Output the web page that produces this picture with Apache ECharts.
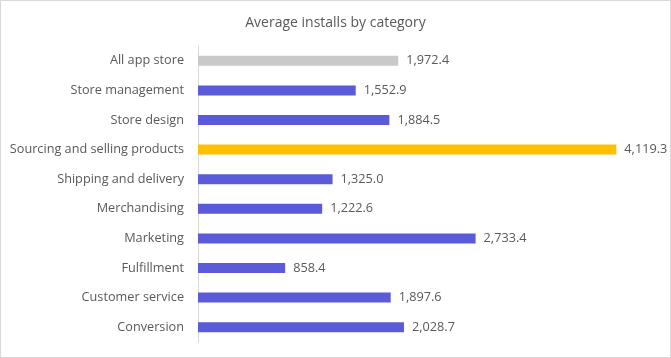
<!DOCTYPE html>
<html>
<head>
<meta charset="utf-8">
<script src="https://cdn.jsdelivr.net/npm/echarts@6/dist/echarts.min.js"></script>
<style>
html,body{margin:0;padding:0;background:#fff;}
#c{width:671px;height:358px;box-sizing:border-box;border:1px solid #d9d9d9;}
</style>
</head>
<body>
<div id="c"></div>
<script>
const categories = ["All app store","Store management","Store design","Sourcing and selling products","Shipping and delivery","Merchandising","Marketing","Fulfillment","Customer service","Conversion"];
const values = [1972.4,1552.9,1884.5,4119.3,1325.0,1222.6,2733.4,858.4,1897.6,2028.7];
const colors = ["#c9c9c9","#5b5bd9","#5b5bd9","#ffc000","#5b5bd9","#5b5bd9","#5b5bd9","#5b5bd9","#5b5bd9","#5b5bd9"];
const titleText = "Average installs by category";

const chart = echarts.init(document.getElementById('c'));
const fmt = v => v.toLocaleString('en-US',{minimumFractionDigits:1,maximumFractionDigits:1});
chart.setOption({
  animation:false,
  textStyle:{fontFamily:"Open Sans"},
  title:{text:titleText,left:'center',top:10,textStyle:{fontFamily:"Open Sans",fontSize:14,fontWeight:'normal',color:'#595959'}},
  grid:{left:197,top:45,right:15,bottom:15,containLabel:false},
  xAxis:{type:'value',min:0,max:4500,show:false},
  yAxis:{type:'category',data:categories,inverse:true,
    axisLine:{show:true,lineStyle:{color:'#d9d9d9'}},
    axisTick:{show:false},
    axisLabel:{margin:14,color:'#595959',fontSize:12.7,fontFamily:"Open Sans"}},
  series:[{type:'bar',barWidth:10,
    data:values.map((v,i)=>({value:v,itemStyle:{color:colors[i]}})),
    label:{show:true,position:'right',distance:8,color:'#595959',fontSize:12.7,fontFamily:"Open Sans",formatter:p=>fmt(p.value)}}]
});
</script>
</body>
</html>
